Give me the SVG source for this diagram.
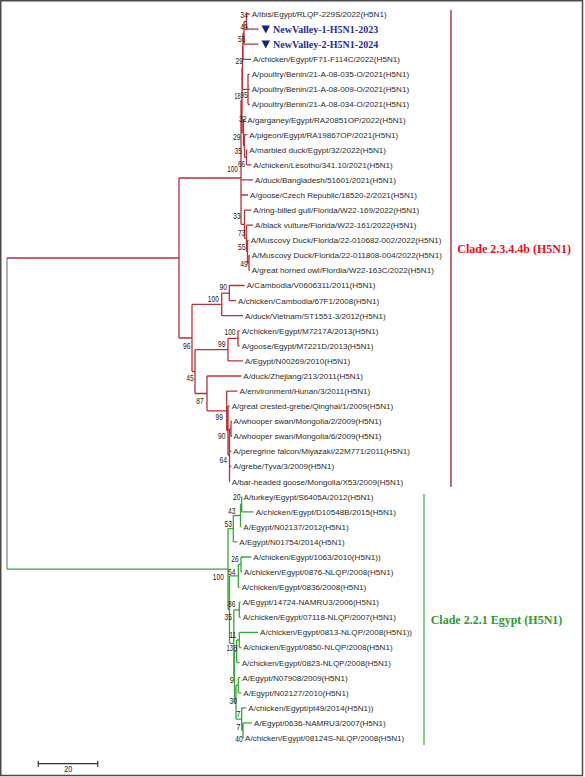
<svg xmlns="http://www.w3.org/2000/svg" width="585" height="777" viewBox="0 0 585 777">
<style>
.bg{fill:#fff}
.frame{fill:none;stroke:#4a4a4a;stroke-width:1.5}
.red{fill:none;stroke:#b8323a;stroke-width:1.3}
.green{fill:none;stroke:#3aa63a;stroke-width:1.3}
.root{fill:none;stroke:#8a8a8a;stroke-width:1.3}
.br{fill:none;stroke:#a01c28;stroke-width:1.3}
.bg2{fill:none;stroke:#45b045;stroke-width:1.3}
.leaf{font-family:"Liberation Sans",Arial,sans-serif;font-size:8.1px;fill:#2b2b2b}
.nv{font-family:"Liberation Serif","Times New Roman",serif;font-size:10px;font-weight:bold;fill:#1e2d96}
.tri{fill:#1a237e}
.bs{font-family:"Liberation Sans",Arial,sans-serif;font-size:9.5px;fill:#222;text-anchor:middle}
.clr{font-family:"Liberation Serif","Times New Roman",serif;font-size:12px;font-weight:bold;fill:#e8101a}
.clg{font-family:"Liberation Serif","Times New Roman",serif;font-size:12px;font-weight:bold;fill:#2e9a2e}
.scale{fill:none;stroke:#333;stroke-width:1.2}
</style>
<rect class="bg" x="0" y="0" width="585" height="777"/>
<rect class="frame" x="0.75" y="0.75" width="581.75" height="774.75"/>

<g id="connectors">
<path class="root" d="M7 258 V569.2"/>
<path class="red" d="M7 258 H179 M179 178 V338 M179 178 H241 M241 100.3 V224.3
M241 100.3 H242 M242 67.8 V132.8 M242 67.8 H242.5 M242.5 46.1 V89.4 M242.5 46.1 H243 M243 32.9 V59.3 M243 32.9 H244 M244 21.5 V44.2 M244 21.5 H246.5 M246.5 14 V29.1
M246.5 14 H249.7 M246.5 29.1 H258.5 M244 44.2 H258.5 M243 59.3 H251
M242.5 89.4 H248 M248 74.3 V104.5 M248 74.3 H249.7 M248 89.4 H249.7 M248 104.5 H249.7
M242 132.8 H243.5 M243.5 119.6 V146 M243.5 119.6 H245.3 M243.5 146 H244.5 M244.5 134.7 V157.3 M244.5 134.7 H247.3 M244.5 157.3 H246.5 M246.5 149.8 V164.8 M246.5 149.8 H247.3 M246.5 164.8 H251.3
M241 179.9 H253 M241 195 H248
M241 224.3 H244.5 M244.5 210.1 V238.4 M244.5 210.1 H251.3 M244.5 238.4 H246.5 M246.5 225.2 V251.6 M246.5 225.2 H253 M246.5 251.6 H247.5 M247.5 240.3 V262.9 M247.5 240.3 H248.7 M247.5 262.9 H249 M249 255.3 V270.4 M249 255.3 H249.7 M249 270.4 H249.7
M179 338 H192 M192 304.4 V371.5 M192 304.4 H221.7 M221.7 293.1 V315.7 M221.7 293.1 H229.3 M229.3 285.5 V300.6 M229.3 285.5 H244.7 M229.3 300.6 H236 M221.7 315.7 H243
M192 371.5 H195 M195 349.6 V393.5 M195 349.6 H228 M228 338.3 V360.9 M228 338.3 H238 M238 330.8 V345.8 M238 330.8 H239.7 M238 345.8 H239.7 M228 360.9 H243
M195 393.5 H207 M207 376 V410.9 M207 376 H241.3 M207 410.9 H226.7 M226.7 391.1 V430.7 M226.7 391.1 H237.5 M226.7 430.7 H228 M228 406.2 V455.2 M228 406.2 H229.7 M228 455.2 H229.5 M229.5 428.8 V481.6 M229.5 428.8 H231 M231 421.3 V436.3 M231 421.3 H232 M231 436.3 H232 M229.5 451.4 H231.3 M229.5 466.5 H231.3 M229.5 481.6 H230"/>
<path class="green" d="M7 569.2 H228 M228 528.7 V609.6 M228 528.7 H233.3 M233.3 515.5 V541.9 M233.3 515.5 H240.5 M240.5 504.2 V526.8 M240.5 504.2 H241.7 M241.7 496.7 V511.8 M241.7 496.7 H242 M241.7 511.8 H253.7 M240.5 526.8 H241.5 M233.3 541.9 H237.3
M228 609.6 H229.5 M229.5 575.9 V643.3 M229.5 575.9 H238.3 M238.3 564.5 V587.2 M238.3 564.5 H241 M241 557 V572.1 M241 557 H251.3 M241 572.1 H242 M238.3 587.2 H239.7
M229.5 643.3 H233.8 M233.8 609.8 V676.8 M233.8 609.8 H239.3 M239.3 602.3 V617.3 M239.3 602.3 H240.7 M239.3 617.3 H240.7
M233.8 676.8 H234.5 M234.5 651.3 V702.2 M234.5 651.3 H236.7 M236.7 640 V662.6 M236.7 640 H239.3 M239.3 632.4 V647.5 M239.3 632.4 H258 M239.3 647.5 H241.3 M236.7 662.6 H239.7
M234.5 702.2 H236 M236 685.2 V719.2 M236 685.2 H238.3 M238.3 677.7 V692.8 M238.3 677.7 H240.3 M238.3 692.8 H241.3 M236 719.2 H241.7 M241.7 707.8 V730.5 M241.7 707.8 H246.3 M241.7 730.5 H243 M243 722.9 V738 M243 722.9 H252 M243 738 H243.5"/>
<path class="br" d="M451 10 V487"/>
<path class="bg2" d="M424 494 V745"/>
</g>

<g id="leaves">
<g id="n0"><text class="leaf" x="251.7" y="16.9">A/ibis/Egypt/RLQP-229S/2022(H5N1)</text></g>
<g id="n1"><path class="tri" d="M261.5 25.5 H270 L265.75 33.5 Z"/><text class="nv" x="273" y="32.7">NewValley-1-H5N1-2023</text></g>
<g id="n2"><path class="tri" d="M261.5 40.6 H270 L265.75 48.6 Z"/><text class="nv" x="273" y="47.8">NewValley-2-H5N1-2024</text></g>
<g id="n3"><text class="leaf" x="253" y="62.2">A/chicken/Egypt/F71-F114C/2022(H5N1)</text></g>
<g id="n4"><text class="leaf" x="251.7" y="77.2">A/poultry/Benin/21-A-08-035-O/2021(H5N1)</text></g>
<g id="n5"><text class="leaf" x="251.7" y="92.3">A/poultry/Benin/21-A-08-009-O/2021(H5N1)</text></g>
<g id="n6"><text class="leaf" x="251.7" y="107.4">A/poultry/Benin/21-A-08-034-O/2021(H5N1)</text></g>
<g id="n7"><text class="leaf" x="247.3" y="122.5">A/garganey/Egypt/RA20851OP/2022(H5N1)</text></g>
<g id="n8"><text class="leaf" x="249.3" y="137.6">A/pigeon/Egypt/RA19867OP/2021(H5N1)</text></g>
<g id="n9"><text class="leaf" x="249.3" y="152.7">A/marbled duck/Egypt/32/2022(H5N1)</text></g>
<g id="n10"><text class="leaf" x="253.3" y="167.7">A/chicken/Lesotho/341.10/2021(H5N1)</text></g>
<g id="n11"><text class="leaf" x="255" y="182.8">A/duck/Bangladesh/51601/2021(H5N1)</text></g>
<g id="n12"><text class="leaf" x="250" y="197.9">A/goose/Czech Republic/18520-2/2021(H5N1)</text></g>
<g id="n13"><text class="leaf" x="253.3" y="213">A/ring-billed gull/Florida/W22-169/2022(H5N1)</text></g>
<g id="n14"><text class="leaf" x="255" y="228.1">A/black vulture/Florida/W22-161/2022(H5N1)</text></g>
<g id="n15"><text class="leaf" x="250.7" y="243.2">A/Muscovy Duck/Florida/22-010682-002/2022(H5N1)</text></g>
<g id="n16"><text class="leaf" x="251.7" y="258.2">A/Muscovy Duck/Florida/22-011808-004/2022(H5N1)</text></g>
<g id="n17"><text class="leaf" x="251.7" y="273.3">A/great horned owl/Flordia/W22-163C/2022(H5N1)</text></g>
<g id="n18"><text class="leaf" x="246.7" y="288.4">A/Cambodia/V0606311/2011(H5N1)</text></g>
<g id="n19"><text class="leaf" x="238" y="303.5">A/chicken/Cambodia/67F1/2008(H5N1)</text></g>
<g id="n20"><text class="leaf" x="245" y="318.6">A/duck/Vietnam/ST1551-3/2012(H5N1)</text></g>
<g id="n21"><text class="leaf" x="241.7" y="333.7">A/chicken/Egypt/M7217A/2013(H5N1)</text></g>
<g id="n22"><text class="leaf" x="241.7" y="348.7">A/goose/Egypt/M7221D/2013(H5N1)</text></g>
<g id="n23"><text class="leaf" x="245" y="363.8">A/Egypt/N00269/2010(H5N1)</text></g>
<g id="n24"><text class="leaf" x="243.3" y="378.9">A/duck/Zhejiang/213/2011(H5N1)</text></g>
<g id="n25"><text class="leaf" x="239.5" y="394">A/environment/Hunan/3/2011(H5N1)</text></g>
<g id="n26"><text class="leaf" x="231.7" y="409.1">A/great crested-grebe/Qinghai/1/2009(H5N1)</text></g>
<g id="n27"><text class="leaf" x="233.5" y="424.2">A/whooper swan/Mongolia/2/2009(H5N1)</text></g>
<g id="n28"><text class="leaf" x="233.5" y="439.2">A/whooper swan/Mongolia/6/2009(H5N1)</text></g>
<g id="n29"><text class="leaf" x="233.3" y="454.3">A/peregrine falcon/Miyazaki/22M771/2011(H5N1)</text></g>
<g id="n30"><text class="leaf" x="233.3" y="469.4">A/grebe/Tyva/3/2009(H5N1)</text></g>
<g id="n31"><text class="leaf" x="231.7" y="484.5">A/bar-headed goose/Mongolia/X53/2009(H5N1)</text></g>
<g id="n32"><text class="leaf" x="243.5" y="499.6">A/turkey/Egypt/S6405A/2012(H5N1)</text></g>
<g id="n33"><text class="leaf" x="255.7" y="514.7">A/chicken/Egypt/D10548B/2015(H5N1)</text></g>
<g id="n34"><text class="leaf" x="243.3" y="529.7">A/Egypt/N02137/2012(H5N1)</text></g>
<g id="n35"><text class="leaf" x="239.3" y="544.8">A/Egypt/N01754/2014(H5N1)</text></g>
<g id="n36"><text class="leaf" x="253.3" y="559.9">A/chicken/Egypt/1063/2010(H5N1))</text></g>
<g id="n37"><text class="leaf" x="244" y="575">A/chicken/Egypt/0876-NLQP/2008(H5N1)</text></g>
<g id="n38"><text class="leaf" x="241.7" y="590.1">A/chicken/Egypt/0836/2008(H5N1)</text></g>
<g id="n39"><text class="leaf" x="242.7" y="605.2">A/Egypt/14724-NAMRU3/2006(H5N1)</text></g>
<g id="n40"><text class="leaf" x="242.7" y="620.2">A/chicken/Egypt/07118-NLQP/2007(H5N1)</text></g>
<g id="n41"><text class="leaf" x="260" y="635.3">A/chicken/Egypt/0813-NLQP/2008(H5N1))</text></g>
<g id="n42"><text class="leaf" x="243.3" y="650.4">A/chicken/Egypt/0850-NLQP/2008(H5N1)</text></g>
<g id="n43"><text class="leaf" x="241.7" y="665.5">A/chicken/Egypt/0823-NLQP/2008(H5N1)</text></g>
<g id="n44"><text class="leaf" x="242.3" y="680.6">A/Egypt/N07908/2009(H5N1)</text></g>
<g id="n45"><text class="leaf" x="243.3" y="695.7">A/Egypt/N02127/2010(H5N1)</text></g>
<g id="n46"><text class="leaf" x="248.3" y="710.7">A/chicken/Egypt/pt49/2014(H5N1))</text></g>
<g id="n47"><text class="leaf" x="254" y="725.8">A/Egypt/0636-NAMRU3/2007(H5N1)</text></g>
<g id="n48"><text class="leaf" x="245" y="740.9">A/chicken/Egypt/08124S-NLQP/2008(H5N1)</text></g>
</g>

<g id="bootstrap">
<text class="bs" x="244" y="18.4" textLength="7.5" lengthAdjust="spacingAndGlyphs">34</text>
<text class="bs" x="244" y="29.6" textLength="7.5" lengthAdjust="spacingAndGlyphs">49</text>
<text class="bs" x="241.7" y="41.8" textLength="7.5" lengthAdjust="spacingAndGlyphs">55</text>
<text class="bs" x="239.3" y="64.2" textLength="7.5" lengthAdjust="spacingAndGlyphs">29</text>
<text class="bs" x="237.5" y="98.5" textLength="6.5" lengthAdjust="spacingAndGlyphs">18</text>
<text class="bs" x="244.2" y="98" textLength="6.5" lengthAdjust="spacingAndGlyphs">95</text>
<text class="bs" x="242.7" y="121.8" textLength="7.5" lengthAdjust="spacingAndGlyphs">32</text>
<text class="bs" x="236.7" y="140.2" textLength="7.5" lengthAdjust="spacingAndGlyphs">29</text>
<text class="bs" x="238.3" y="153.5" textLength="7.5" lengthAdjust="spacingAndGlyphs">35</text>
<text class="bs" x="241.6" y="166.8" textLength="7" lengthAdjust="spacingAndGlyphs">66</text>
<text class="bs" x="232.4" y="171.8" textLength="10.5" lengthAdjust="spacingAndGlyphs">100</text>
<text class="bs" x="236.7" y="219.2" textLength="7.5" lengthAdjust="spacingAndGlyphs">33</text>
<text class="bs" x="241.7" y="235.5" textLength="7.5" lengthAdjust="spacingAndGlyphs">73</text>
<text class="bs" x="241.7" y="250.2" textLength="7.5" lengthAdjust="spacingAndGlyphs">55</text>
<text class="bs" x="244" y="266.8" textLength="7.5" lengthAdjust="spacingAndGlyphs">49</text>
<text class="bs" x="223.3" y="289.5" textLength="7.5" lengthAdjust="spacingAndGlyphs">90</text>
<text class="bs" x="213.3" y="301.8" textLength="11" lengthAdjust="spacingAndGlyphs">100</text>
<text class="bs" x="230" y="334.5" textLength="11" lengthAdjust="spacingAndGlyphs">100</text>
<text class="bs" x="221.7" y="346.8" textLength="7.5" lengthAdjust="spacingAndGlyphs">99</text>
<text class="bs" x="186.7" y="348.5" textLength="7.5" lengthAdjust="spacingAndGlyphs">96</text>
<text class="bs" x="190" y="381" textLength="7.5" lengthAdjust="spacingAndGlyphs">45</text>
<text class="bs" x="200" y="403.5" textLength="7.5" lengthAdjust="spacingAndGlyphs">87</text>
<text class="bs" x="219.3" y="420.2" textLength="7.5" lengthAdjust="spacingAndGlyphs">99</text>
<text class="bs" x="221.7" y="438.5" textLength="7.5" lengthAdjust="spacingAndGlyphs">90</text>
<text class="bs" x="223.3" y="462.8" textLength="7.5" lengthAdjust="spacingAndGlyphs">64</text>
<text class="bs" x="236.7" y="499.5" textLength="7.5" lengthAdjust="spacingAndGlyphs">20</text>
<text class="bs" x="231.7" y="513.5" textLength="7.5" lengthAdjust="spacingAndGlyphs">43</text>
<text class="bs" x="228.3" y="526.8" textLength="7.5" lengthAdjust="spacingAndGlyphs">53</text>
<text class="bs" x="235" y="561.5" textLength="7.5" lengthAdjust="spacingAndGlyphs">26</text>
<text class="bs" x="231.7" y="575.2" textLength="7.5" lengthAdjust="spacingAndGlyphs">54</text>
<text class="bs" x="218.3" y="580.2" textLength="11" lengthAdjust="spacingAndGlyphs">100</text>
<text class="bs" x="231.7" y="606.8" textLength="7.5" lengthAdjust="spacingAndGlyphs">86</text>
<text class="bs" x="228.3" y="620.2" textLength="7.5" lengthAdjust="spacingAndGlyphs">35</text>
<text class="bs" x="232.7" y="638" textLength="7" lengthAdjust="spacingAndGlyphs">11</text>
<text class="bs" x="229.8" y="651" textLength="6.5" lengthAdjust="spacingAndGlyphs">13</text>
<text class="bs" x="235.6" y="651" textLength="4" lengthAdjust="spacingAndGlyphs">8</text>
<text class="bs" x="232" y="682.5" textLength="4.3" lengthAdjust="spacingAndGlyphs">9</text>
<text class="bs" x="233.3" y="704.3" textLength="7.5" lengthAdjust="spacingAndGlyphs">30</text>
<text class="bs" x="238.3" y="716.5" textLength="4.3" lengthAdjust="spacingAndGlyphs">7</text>
<text class="bs" x="238.3" y="730.2" textLength="4.3" lengthAdjust="spacingAndGlyphs">7</text>
<text class="bs" x="239" y="741.8" textLength="7.5" lengthAdjust="spacingAndGlyphs">40</text>
</g>

<g id="clade-red"><text class="clr" x="457.3" y="252.5">Clade 2.3.4.4b (H5N1)</text></g>
<g id="clade-green"><text class="clg" x="430.7" y="624">Clade 2.2.1 Egypt (H5N1)</text></g>

<g id="scale-bar">
<path class="scale" d="M38.3 763.7 H97.7 M38.3 760.7 V766.7 M97.7 760.7 V766.7"/>
<text class="bs" x="68.3" y="772" textLength="8" lengthAdjust="spacingAndGlyphs">20</text>
</g>
</svg>
